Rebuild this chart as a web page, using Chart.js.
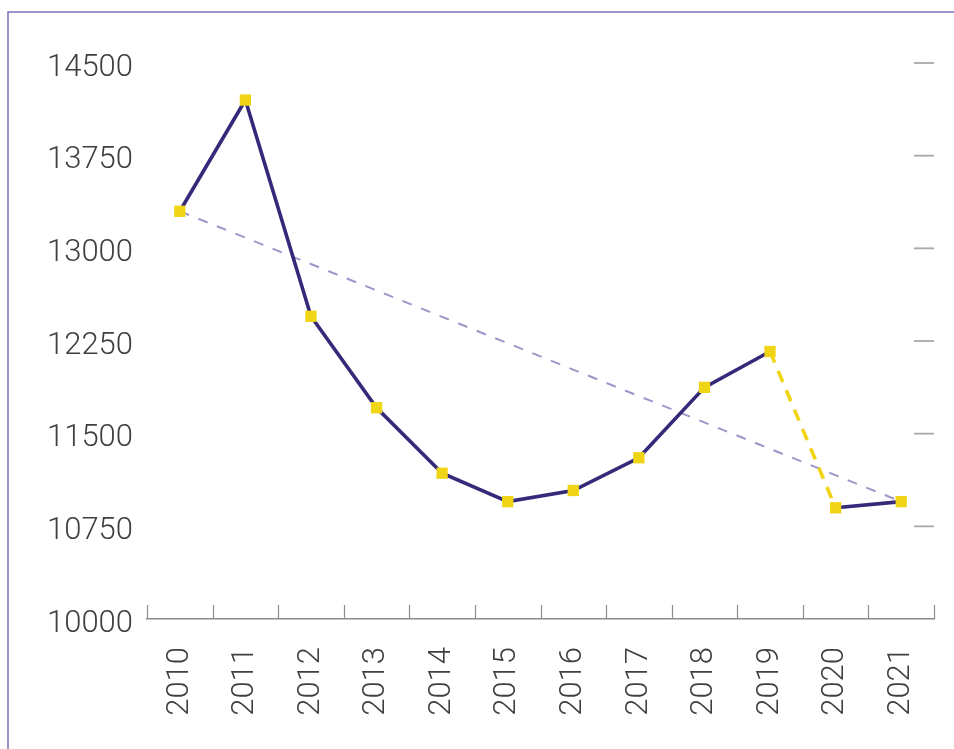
<!DOCTYPE html>
<html>
<head>
<meta charset="utf-8">
<script src="https://cdn.jsdelivr.net/npm/chart.js@4/dist/chart.umd.min.js"></script>
<style>
html,body{margin:0;padding:0;background:#fff;}
#wrap{position:absolute;left:0;top:0;width:954px;height:749px;}
</style>
</head>
<body>
<div id="wrap"><canvas id="c" width="954" height="749"></canvas></div>
<script>
const years = ['2010','2011','2012','2013','2014','2015','2016','2017','2018','2019','2020','2021'];
const values = [13300, 14200, 12450, 11710, 11180, 10950, 11040, 11305, 11875, 12165, 10900, 10950];
const trendValues = [13300, null, null, null, null, null, null, null, null, null, null, 10950];
const yMin = 10000, yMax = 14500, yStep = 750;

const PURPLE = '#35297a';
const YELLOW = '#f0d516';
const TREND = '#9d97c9';
const FONT = "Roboto, 'Liberation Sans', sans-serif";

const decor = {
  id: 'decor',
  beforeDraw(chart) {
    const ctx = chart.ctx;
    ctx.save();
    ctx.strokeStyle = '#7b73b5';
    ctx.lineWidth = 1.5;
    ctx.beginPath();
    ctx.moveTo(8, 749);
    ctx.lineTo(8, 12);
    ctx.lineTo(954, 12);
    ctx.stroke();
    ctx.restore();
  },
  afterDraw(chart) {
    const ctx = chart.ctx;
    const y = chart.scales.y;
    const area = chart.chartArea;
    ctx.save();
    ctx.strokeStyle = '#8c8c8c';
    ctx.lineWidth = 1.2;
    const n = years.length;
    const w = (area.right - area.left) / n;
    for (let i = 0; i <= n; i++) {
      const px = Math.round(area.left + i * w) + 0.5;
      ctx.beginPath();
      ctx.moveTo(px, area.bottom);
      ctx.lineTo(px, area.bottom - 14);
      ctx.stroke();
    }
    ctx.strokeStyle = '#a8a8a8';
    ctx.lineWidth = 1.8;
    for (let v = yMin + yStep; v <= yMax; v += yStep) {
      const py = y.getPixelForValue(v);
      ctx.beginPath();
      ctx.moveTo(area.right - 20, py);
      ctx.lineTo(area.right, py);
      ctx.stroke();
    }
    ctx.restore();
  }
};

new Chart(document.getElementById('c'), {
  type: 'line',
  data: {
    labels: years,
    datasets: [
      {
        data: values,
        borderColor: PURPLE,
        borderWidth: 3.6,
        tension: 0,
        pointStyle: 'rect',
        pointRadius: 8,
        pointHoverRadius: 8,
        pointBackgroundColor: YELLOW,
        pointBorderWidth: 0,
        order: 0,
        segment: {
          borderColor: c => c.p0DataIndex === 9 ? YELLOW : PURPLE,
          borderDash: c => c.p0DataIndex === 9 ? [12, 9] : undefined
        }
      },
      {
        data: trendValues,
        spanGaps: true,
        borderColor: TREND,
        borderWidth: 2,
        borderDash: [10, 10],
        pointRadius: 0,
        order: 1
      }
    ]
  },
  options: {
    responsive: false,
    animation: false,
    devicePixelRatio: 1,
    layout: { padding: { left: 0, right: 20, top: 63, bottom: 0 } },
    plugins: { legend: { display: false }, tooltip: { enabled: false } },
    scales: {
      x: {
        offset: true,
        grid: { display: false, drawTicks: false },
        border: { display: true, color: '#8c8c8c', width: 1.5 },
        ticks: {
          color: '#3f3f3f',
          font: { family: FONT, size: 31, weight: '300' },
          minRotation: 90,
          maxRotation: 90,
          padding: 28,
          autoSkip: false
        },
        afterFit: s => { s.height = 749 - 619; s.paddingLeft = 0; s.paddingRight = 0; }
      },
      y: {
        min: yMin,
        max: yMax,
        grid: { display: false, drawTicks: false },
        border: { display: false },
        ticks: {
          stepSize: yStep,
          color: '#3f3f3f',
          font: { family: FONT, size: 31, weight: '300' },
          padding: 14,
          labelOffset: 5,
          callback: v => String(v)
        },
        afterFit: s => { s.width = 147; }
      }
    }
  },
  plugins: [decor]
});
</script>
</body>
</html>
